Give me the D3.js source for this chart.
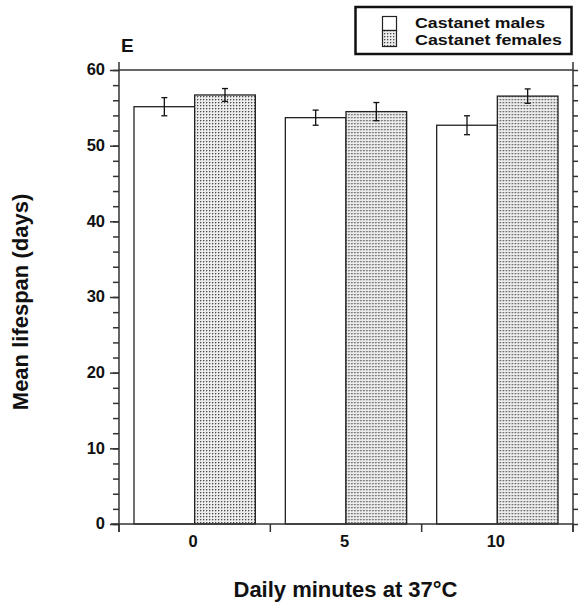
<!DOCTYPE html>
<html>
<head>
<meta charset="utf-8">
<script src="https://cdn.jsdelivr.net/npm/d3@7/dist/d3.min.js"></script>
<style>
  body { margin: 0; background: #fff; }
  svg { display: block; font-family: "Liberation Sans", Arial, Helvetica, sans-serif; font-weight: bold; }
</style>
</head>
<body>
<script>
const categories = ["0", "5", "10"];
const seriesNames = ["Castanet males", "Castanet females"];
const males = [55.15, 53.7, 52.7];
const malesErr = [1.2, 1.0, 1.25];
const females = [56.7, 54.5, 56.55];
const femalesErr = [0.85, 1.2, 0.95];
const yMajorTicks = [0, 10, 20, 30, 40, 50, 60];
const yMinorTicks = d3.range(0, 61, 2);

(function () {
const W = 578, H = 610;
const svg = d3.select("body").append("svg").attr("width", W).attr("height", H);

const defs = svg.append("defs");
const pat = defs.append("pattern").attr("id", "stipple").attr("patternUnits", "userSpaceOnUse")
  .attr("width", 3).attr("height", 3);
pat.append("rect").attr("width", 3).attr("height", 3).attr("fill", "#ececec");
pat.append("rect").attr("x", 0).attr("y", 1).attr("width", 1).attr("height", 1).attr("fill", "#b4b4b4");
pat.append("rect").attr("x", 1).attr("y", 0).attr("width", 1).attr("height", 1).attr("fill", "#b4b4b4");
pat.append("rect").attr("x", 0).attr("y", 0).attr("width", 1).attr("height", 1).attr("fill", "#4a4a4a");

const pLeft = 119, pRight = 573, pTop = 70, pBottom = 524;
const y = d3.scaleLinear().domain([0, 60]).range([pBottom, pTop]);
const x = d3.scaleBand().domain(categories).range([pLeft, pRight]).padding(0);
const xs = d3.scaleBand().domain(["m", "f"]).range([15, x.bandwidth() - 15]).padding(0);

const axisColor = "#333";

const data = categories.map((c, i) => ({ c, vals: [
  { k: "m", v: males[i], e: malesErr[i] },
  { k: "f", v: females[i], e: femalesErr[i] }
]}));

const g = svg.append("g");
const groups = g.selectAll("g.grp").data(data).join("g").attr("class", "grp")
  .attr("transform", d => `translate(${x(d.c)},0)`);
groups.selectAll("rect").data(d => d.vals).join("rect")
  .attr("x", d => xs(d.k))
  .attr("y", d => y(d.v))
  .attr("width", xs.bandwidth())
  .attr("height", d => y(0) - y(d.v))
  .attr("fill", d => d.k === "m" ? "#fff" : "url(#stipple)")
  .attr("stroke", "#222").attr("stroke-width", 1.3);

const eb = groups.selectAll("g.eb").data(d => d.vals).join("g").attr("class", "eb")
  .attr("stroke", "#111").attr("stroke-width", 1.3);
const cx = d => xs(d.k) + xs.bandwidth() / 2;
eb.append("line").attr("x1", cx).attr("x2", cx)
  .attr("y1", d => y(d.v + d.e)).attr("y2", d => y(d.v - d.e));
eb.append("line").attr("x1", d => cx(d) - 3).attr("x2", d => cx(d) + 3)
  .attr("y1", d => y(d.v + d.e)).attr("y2", d => y(d.v + d.e));
eb.append("line").attr("x1", d => cx(d) - 3).attr("x2", d => cx(d) + 3)
  .attr("y1", d => y(d.v - d.e)).attr("y2", d => y(d.v - d.e));

const frame = svg.append("g").attr("stroke", axisColor).attr("stroke-width", 1.5);
frame.append("line").attr("x1", pLeft).attr("x2", pRight).attr("y1", pTop).attr("y2", pTop);
frame.append("line").attr("x1", pLeft).attr("x2", pLeft).attr("y1", pTop - 8).attr("y2", pBottom + 8);
frame.append("line").attr("x1", pRight).attr("x2", pRight).attr("y1", pTop - 8).attr("y2", pBottom + 8);
frame.append("line").attr("x1", pLeft - 8).attr("x2", pRight).attr("y1", pBottom).attr("y2", pBottom);

function styleAxis(sel) {
  sel.select(".domain").remove();
  sel.selectAll(".tick line").attr("stroke", axisColor).attr("stroke-width", 1.5);
}

svg.append("g").attr("transform", `translate(${pLeft},0)`)
  .call(d3.axisLeft(y).tickValues(yMinorTicks).tickSize(6).tickFormat(""))
  .call(styleAxis);
const la = svg.append("g").attr("transform", `translate(${pLeft},0)`)
  .call(d3.axisLeft(y).tickValues(yMajorTicks).tickSize(9).tickPadding(5).tickFormat(d3.format("d")))
  .call(styleAxis);
la.selectAll(".tick text").attr("font-size", 16.5).attr("font-weight", "bold").attr("fill", "#111")
  .attr("font-family", "Liberation Sans, Arial, sans-serif").attr("dy", "0.3em");

svg.append("g").attr("transform", `translate(${pRight},0)`)
  .call(d3.axisRight(y).tickValues(yMinorTicks).tickSize(6).tickFormat(""))
  .call(styleAxis);

const boundaries = categories.map(c => x(c)).concat([x(categories[categories.length - 1]) + x.bandwidth()]);
svg.append("g").selectAll("line").data(boundaries).join("line")
  .attr("x1", d => d).attr("x2", d => d).attr("y1", pBottom).attr("y2", pBottom + 8)
  .attr("stroke", axisColor).attr("stroke-width", 1.5);
svg.append("g").selectAll("text").data(categories).join("text")
  .attr("x", d => x(d) + x.bandwidth() / 2 - 1.5).attr("y", 547)
  .attr("text-anchor", "middle").attr("font-size", 16.5).attr("fill", "#111")
  .text(d => d);

svg.append("text").attr("x", 121).attr("y", 52).attr("font-size", 19).attr("fill", "#111").text("E");
svg.append("text").attr("x", 345.5).attr("y", 597).attr("text-anchor", "middle")
  .attr("font-size", 22).attr("fill", "#111").text("Daily minutes at 37°C");
svg.append("text").attr("transform", "translate(28,302) rotate(-90)").attr("text-anchor", "middle")
  .attr("font-size", 22).attr("fill", "#111").text("Mean lifespan (days)");

const leg = svg.append("g");
leg.append("rect").attr("x", 355.5).attr("y", 7).attr("width", 216).attr("height", 47)
  .attr("fill", "#fff").attr("stroke", "#111").attr("stroke-width", 2.5);
leg.append("rect").attr("x", 382.5).attr("y", 16.5).attr("width", 14).attr("height", 14)
  .attr("fill", "#fff").attr("stroke", "#222").attr("stroke-width", 1.2);
leg.append("rect").attr("x", 382.5).attr("y", 30.5).attr("width", 14).attr("height", 16)
  .attr("fill", "url(#stipple)").attr("stroke", "#222").attr("stroke-width", 1.2);
const legWidths = [130, 147];
leg.selectAll("text.lt").data(seriesNames).join("text").attr("class", "lt")
  .attr("x", 415).attr("y", (d, i) => 28 + i * 17)
  .attr("font-size", 15.5).attr("textLength", (d, i) => legWidths[i]).attr("lengthAdjust", "spacingAndGlyphs")
  .attr("fill", "#111").text(d => d);
})();
</script>
</body>
</html>
